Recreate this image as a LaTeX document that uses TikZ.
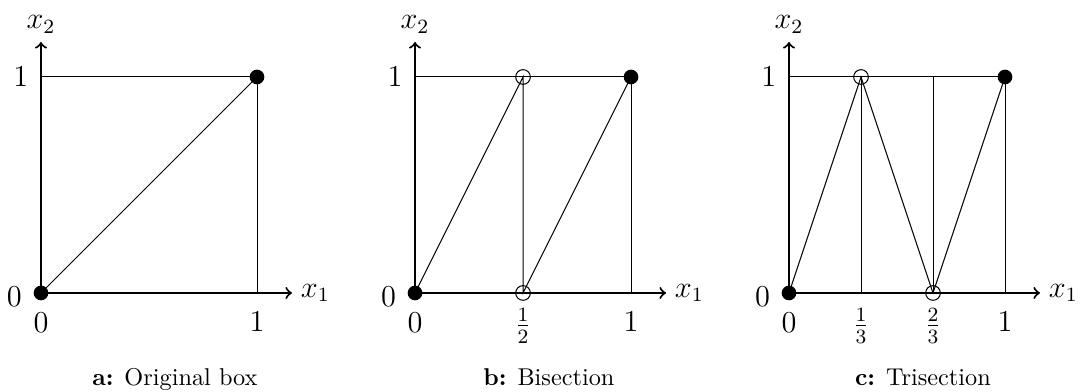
\documentclass[tikz,border=0pt]{standalone}
\begin{document}
\begin{tikzpicture}[
  axis/.style={thick,->},
  gridline/.style={thin},
  fdot/.style={circle,fill=black,inner sep=0pt,minimum size=5.8pt},
  odot/.style={circle,draw,thin,inner sep=0pt,minimum size=5.8pt},
  lbl/.style={font=\large},
  caption/.style={anchor=base,font=\fontsize{9.6}{11}\selectfont},
]
\useasboundingbox (0,0) rectangle (15.055,5.444);
% ---------- panel a ----------
\begin{scope}[shift={(0.5694,1.375)},x=3cm,y=3cm]
  \coordinate (a0) at (0,0);
  \coordinate (a01) at (0,1);
  \coordinate (a10) at (1,0);
  \coordinate (ax) at (1.162,0);
  \coordinate (ay) at (0,1.162);
  \node[fdot] (a11) at (1,1) {};
  \draw[gridline] (a01) -- (a11.center) -- (a10);
  \draw[gridline] (a0) -- (a11.center);
  \draw[axis] (a0) -- (ax);
  \draw[axis] (a0) -- (ay);
  \node[fdot] (a00) at (a0) {};
  \node[lbl,right] (ax1) at (ax) {$x_1$};
  \node[lbl,above] (ax2) at (ay) {$x_2$};
  \node[lbl] (al0) at (-0.123,-0.015) {$0$};
  \node[lbl] (al1) at (-0.093,1) {$1$};
  \node[lbl] (ab0) at (0,-0.139) {$0$};
  \node[lbl] (ab1) at (1,-0.134) {$1$};
  \node[caption] (acap) at (0.62,-0.4306) {\textbf{a:} Original box};
\end{scope}
% ---------- panel b ----------
\begin{scope}[shift={(5.764,1.375)},x=3cm,y=3cm]
  \coordinate (b0) at (0,0);
  \coordinate (b01) at (0,1);
  \coordinate (b10) at (1,0);
  \coordinate (bx) at (1.162,0);
  \coordinate (by) at (0,1.162);
  \node[fdot] (b11) at (1,1) {};
  \node[odot] (bh1) at (0.5,1) {};
  \node[odot] (bh0) at (0.5,0) {};
  \draw[gridline] (b01) -- (b11.center) -- (b10);
  \draw[gridline] (b0) -- (bh1.center) -- (bh0.center) -- (b11.center);
  \draw[axis] (b0) -- (bx);
  \draw[axis] (b0) -- (by);
  \node[fdot] (b00) at (b0) {};
  \node[lbl,right] (bx1) at (bx) {$x_1$};
  \node[lbl,above] (bx2) at (by) {$x_2$};
  \node[lbl] (bl0) at (-0.123,-0.015) {$0$};
  \node[lbl] (bl1) at (-0.093,1) {$1$};
  \node[lbl] (bb0) at (0,-0.139) {$0$};
  \node[lbl] (bbh) at (0.5,-0.153) {$\frac{1}{2}$};
  \node[lbl] (bb1) at (1,-0.134) {$1$};
  \node[caption] (bcap) at (0.62,-0.4306) {\textbf{b:} Bisection};
\end{scope}
% ---------- panel c ----------
\begin{scope}[shift={(10.958,1.375)},x=3cm,y=3cm]
  \coordinate (c0) at (0,0);
  \coordinate (c01) at (0,1);
  \coordinate (c10) at (1,0);
  \coordinate (ct0) at (1/3,0);
  \coordinate (ct1) at (2/3,1);
  \coordinate (cx) at (1.162,0);
  \coordinate (cy) at (0,1.162);
  \node[fdot] (c11) at (1,1) {};
  \node[odot] (co1) at (1/3,1) {};
  \node[odot] (co2) at (2/3,0) {};
  \draw[gridline] (c01) -- (c11.center) -- (c10);
  \draw[gridline] (co1.center) -- (ct0);
  \draw[gridline] (ct1) -- (co2.center);
  \draw[gridline] (c0) -- (co1.center) -- (co2.center) -- (c11.center);
  \draw[axis] (c0) -- (cx);
  \draw[axis] (c0) -- (cy);
  \node[fdot] (c00) at (c0) {};
  \node[lbl,right] (cx1) at (cx) {$x_1$};
  \node[lbl,above] (cx2) at (cy) {$x_2$};
  \node[lbl] (cl0) at (-0.123,-0.015) {$0$};
  \node[lbl] (cl1) at (-0.093,1) {$1$};
  \node[lbl] (cb0) at (0,-0.139) {$0$};
  \node[lbl] (cb1t) at (1/3,-0.153) {$\frac{1}{3}$};
  \node[lbl] (cb2t) at (2/3,-0.153) {$\frac{2}{3}$};
  \node[lbl] (cb1) at (1,-0.134) {$1$};
  \node[caption] (ccap) at (0.62,-0.4306) {\textbf{c:} Trisection};
\end{scope}
\end{tikzpicture}
\end{document}
